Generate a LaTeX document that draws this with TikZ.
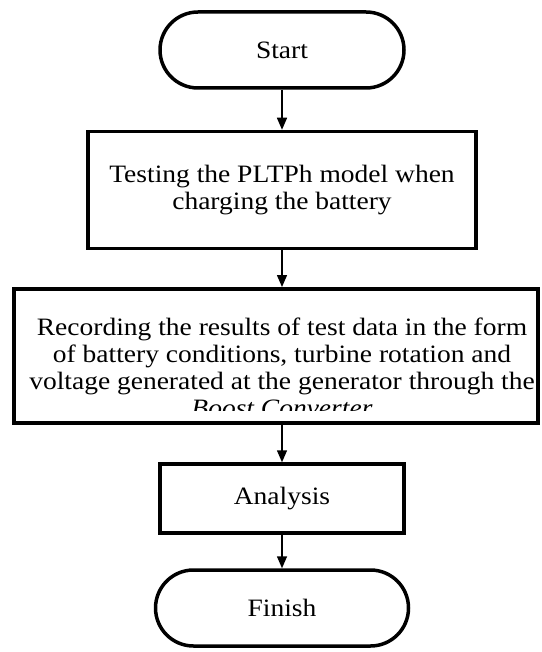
\documentclass[tikz,border=0pt]{standalone}
\usepackage{fontspec}
\setmainfont[FakeStretch=1.1]{Liberation Serif}
\usetikzlibrary{arrows.meta}
\begin{document}
\begin{tikzpicture}[x=1pt,y=-1pt,
  txt/.style={font=\fontsize{25}{27}\selectfont, align=center},
  term/.style={draw, line width=3.5pt, rounded corners=38pt, minimum width=244pt, minimum height=76pt, inner sep=0pt, txt},
  proc/.style={draw, line width=3.5pt, inner sep=0pt, txt},
  flow/.style={-{Triangle[width=10pt,length=12pt]}, line width=1.5pt}]
\useasboundingbox[fill=white] (0,0) rectangle (541,652);
\node[term] (start) at (282,50) {Start};
\node[proc, minimum width=388pt, minimum height=117pt] (test) at (282,190)
  {Testing the PLTPh model when\\charging the battery};
\node[proc, line width=4pt, minimum width=524pt, minimum height=134pt] (rec) at (276,356) {};
\begin{scope}
  \clip (16,291) rectangle (536,410);
  \node[txt, inner sep=0pt] (rectext) at (282,367)
    {Recording the results of test data in the form\\of battery conditions, turbine rotation and\\voltage generated at the generator through the\\\textit{Boost Converter}};
\end{scope}
\node[proc, minimum width=244pt, minimum height=69pt] (ana) at (282,498.5) {Analysis};
\node[term, minimum width=253pt] (fin) at (282,608) {Finish};
\draw[flow] (start.south) -- (test.north);
\draw[flow] (test.south) -- (test.south |- rec.north);
\draw[flow] (test.south |- rec.south) -- (ana.north);
\draw[flow] (ana.south) -- (fin.north);
\end{tikzpicture}
\end{document}
